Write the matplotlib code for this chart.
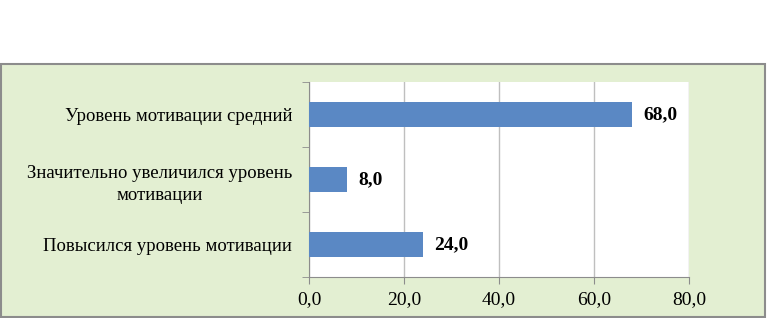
import matplotlib.pyplot as plt
from matplotlib.patches import Rectangle
from matplotlib.ticker import FixedLocator

categories = ['Повысился уровень мотивации',
              'Значительно увеличился уровень\nмотивации',
              'Уровень мотивации средний']
values = [24.0, 8.0, 68.0]
xticks = [0, 20, 40, 60, 80]

plt.rcParams['font.family'] = ['Liberation Serif', 'DejaVu Serif']

fig = plt.figure(figsize=(7.68, 3.18), dpi=100)
fig.patch.set_facecolor('white')

# green frame of the chart
frame = Rectangle((1 / 768, 1 / 318), 764 / 768, 253 / 318, transform=fig.transFigure,
                  facecolor='#E3EFD2', edgecolor='#8C8C8C', linewidth=1.5, zorder=-5)
fig.patches.append(frame)

ax = fig.add_axes([309 / 768, 1 - 277 / 318, 380 / 768, 195 / 318])
ax.set_zorder(1)
ax.set_facecolor('white')

y = range(len(categories))
ax.barh(y, values, height=0.39, color='#5A88C4', zorder=3)
for yi, v in zip(y, values):
    ax.text(v + 2.3, yi, f'{v:.1f}'.replace('.', ','), va='center', ha='left',
            fontsize=14, fontweight='bold', color='black')

ax.set_xlim(0, 80)
ax.set_ylim(-0.5, 2.5)
ax.set_xticks(xticks)
ax.set_xticklabels([f'{t:.1f}'.replace('.', ',') for t in xticks], fontsize=14)
ax.set_yticks(list(y))
ax.set_yticklabels(categories, fontsize=13.5, multialignment='center',
                   linespacing=1.4)
ax.yaxis.set_minor_locator(FixedLocator([-0.5, 0.5, 1.5, 2.5]))

ax.tick_params(axis='y', which='major', length=0, pad=12)
ax.tick_params(axis='y', which='minor', length=5, color='#8C8C8C')
ax.tick_params(axis='x', length=5, color='#8C8C8C', pad=5)

ax.grid(axis='x', color='#BFBFBF', linewidth=1, zorder=0)
for side in ['top', 'right']:
    ax.spines[side].set_visible(False)
for side in ['left', 'bottom']:
    ax.spines[side].set_color('#8C8C8C')

fig.savefig('out.png', dpi=100, facecolor=fig.get_facecolor())
